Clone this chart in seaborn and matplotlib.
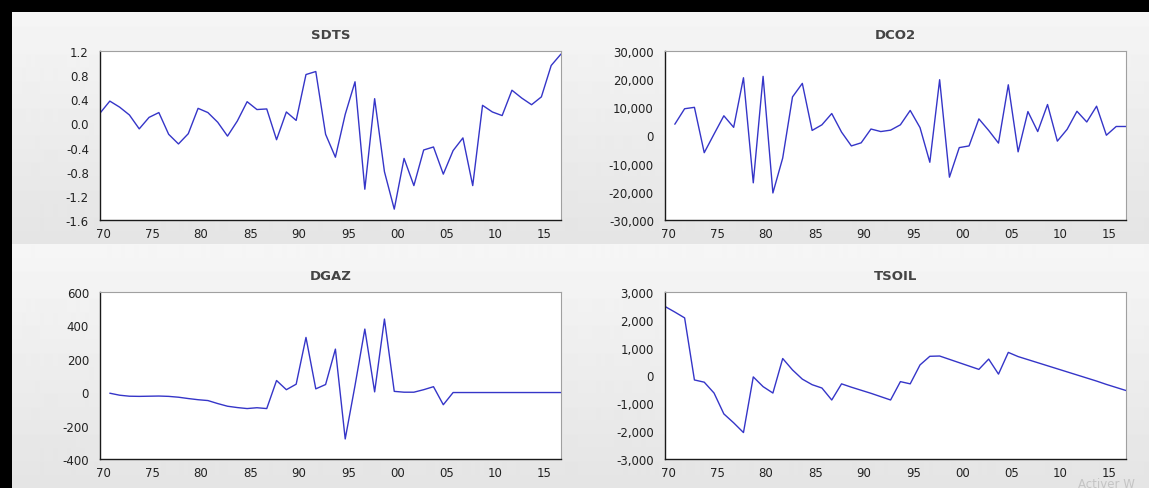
import numpy as np
import matplotlib
matplotlib.use("Agg")
import matplotlib.pyplot as plt
import matplotlib.ticker as mticker
import matplotlib.transforms as mtransforms
from matplotlib.patches import Rectangle
import seaborn as sns

# years of observation
years = list(range(1970, 2018))
years_diff = list(range(1971, 2018))

sdts = [0.17, 0.37, 0.27, 0.14, -0.09, 0.10, 0.18, -0.18, -0.34, -0.17,
        0.25, 0.18, 0.02, -0.21, 0.04, 0.36, 0.23, 0.24, -0.27, 0.19,
        0.05, 0.81, 0.86, -0.18, -0.56, 0.15, 0.69, -1.09, 0.41, -0.80,
        -1.42, -0.58, -1.03, -0.44, -0.39, -0.84, -0.45, -0.24, -1.03, 0.30,
        0.19, 0.13, 0.55, 0.42, 0.31, 0.44, 0.96, 1.15]

dco2 = [4000, 9500, 10000, -6100, 500, 7000, 2900, 20500, -16800,
        21000, -20400, -8000, 13700, 18500, 1800, 3800, 7800, 1200, -3700,
        -2600, 2300, 1400, 1900, 3800, 8900, 2800, -9500, 19800, -14800,
        -4300, -3700, 5900, 1800, -2700, 18000, -5800, 8500, 1400, 11000,
        -2000, 2200, 8600, 4800, 10400, 100, 3200, 3200]

dgaz = [-6, -18, -24, -25, -24, -23, -25, -30, -38,
        -45, -50, -68, -84, -92, -98, -93, -98, 70, 15,
        48, 328, 20, 46, 258, -280, 40, 378, 2, 438,
        5, 0, 0, 15, 33, -75, -2, -2, -2, -2,
        -2, -2, -2, -2, -2, -2, -2, -2]

tsoil = [2480, 2280, 2070, -160, -240, -630, -1380, -1700, -2050, -50,
         -400, -630, 610, 200, -130, -330, -450, -880, -300, -420,
         -530, -640, -760, -880, -220, -300, 380, 690, 700, 580,
         460, 340, 220, 590, 50, 830, 680, 570, 460, 350,
         240, 130, 20, -90, -200, -320, -430, -540]

sns.set_style("white")
plt.rcParams["font.family"] = ["DejaVu Sans"]
plt.rcParams["axes.unicode_minus"] = False

W, H = 1149, 489
fig = plt.figure(figsize=(W / 100, H / 100), dpi=100)
fig.patch.set_facecolor("#eeeeee")

# light grey gradient behind each row, like the EViews frame
bg = fig.add_axes([0, 0, 1, 1], zorder=-10)
col = np.concatenate([np.linspace(0.965, 0.895, 245),
                      np.linspace(0.965, 0.895, H - 245)])
bg.imshow(col[:, None], cmap="gray", vmin=0, vmax=1, aspect="auto",
          extent=[0, 1, 0, 1])
bg.axis("off")

LINE = "#3535c8"


def px_box(x0, y0, x1, y1):
    return [x0 / W, 1 - y1 / H, (x1 - x0) / W, (y1 - y0) / H]


def one_dec(v, pos):
    v = round(v, 1)
    return "0.0" if abs(v) < 1e-9 else f"{v:.1f}"


def thousands(v, pos):
    return f"{round(v):,.0f}"


panels = [
    ("SDTS", years, sdts, (-1.6, 1.2), 0.4, one_dec, px_box(100, 52, 561, 221)),
    ("DCO2", years_diff, dco2, (-30000, 30000), 10000, thousands,
     px_box(665, 52, 1126, 221)),
    ("DGAZ", years_diff, dgaz, (-400, 600), 200, thousands,
     px_box(100, 293, 561, 460)),
    ("TSOIL", years, tsoil, (-3000, 3000), 1000, thousands,
     px_box(665, 293, 1126, 460)),
]

shift = mtransforms.ScaledTranslation(3 / 100, 0, fig.dpi_scale_trans)

for name, xs, vals, (lo, hi), step, fmt, pos in panels:
    ax = fig.add_axes(pos)
    sns.lineplot(x=xs, y=vals, ax=ax, color=LINE, linewidth=1.0)
    ax.set_facecolor("white")
    ax.set_xlim(1970, 2017)
    ax.set_ylim(lo, hi)
    ax.set_yticks(np.arange(lo, hi + step / 2, step))
    ax.yaxis.set_major_formatter(mticker.FuncFormatter(fmt))
    major = list(range(1970, 2016, 5))
    ax.set_xticks(major)
    ax.set_xticklabels([f"{y % 100:02d}" for y in major])
    ax.set_xticks(years, minor=True)
    ax.tick_params(axis="both", which="major", direction="out", length=4,
                   width=0.8, color="#333333", labelsize=8.5,
                   labelcolor="#222222", pad=1)
    ax.tick_params(axis="x", which="minor", direction="out", length=2.5,
                   width=0.7, color="#444444")
    ax.tick_params(axis="y", which="major", pad=4)
    # EViews puts the year labels a little right of the tick
    for lab in ax.get_xticklabels():
        lab.set_transform(lab.get_transform() + shift)
    for side in ("left", "bottom"):
        ax.spines[side].set_color("#1a1a1a")
        ax.spines[side].set_linewidth(1.0)
    for side in ("top", "right"):
        ax.spines[side].set_color("#a0a0a0")
        ax.spines[side].set_linewidth(0.8)
    ax.set_xlabel("")
    ax.set_ylabel("")
    ax.set_title(name, fontsize=9.5, fontweight="bold", color="#444444", pad=9)

# black frame of the screenshot
fig.add_artist(Rectangle((0, 1 - 13 / H), 1, 13 / H, transform=fig.transFigure,
                         facecolor="black", edgecolor="none", zorder=20))
fig.add_artist(Rectangle((0, 0), 12 / W, 1, transform=fig.transFigure,
                         facecolor="black", edgecolor="none", zorder=20))

fig.text(1078 / W, 1 / H, "Activer W", color="#c4c4c4", fontsize=8.5,
         ha="left", va="baseline")

fig.savefig("out.png", dpi=100, facecolor=fig.get_facecolor())
